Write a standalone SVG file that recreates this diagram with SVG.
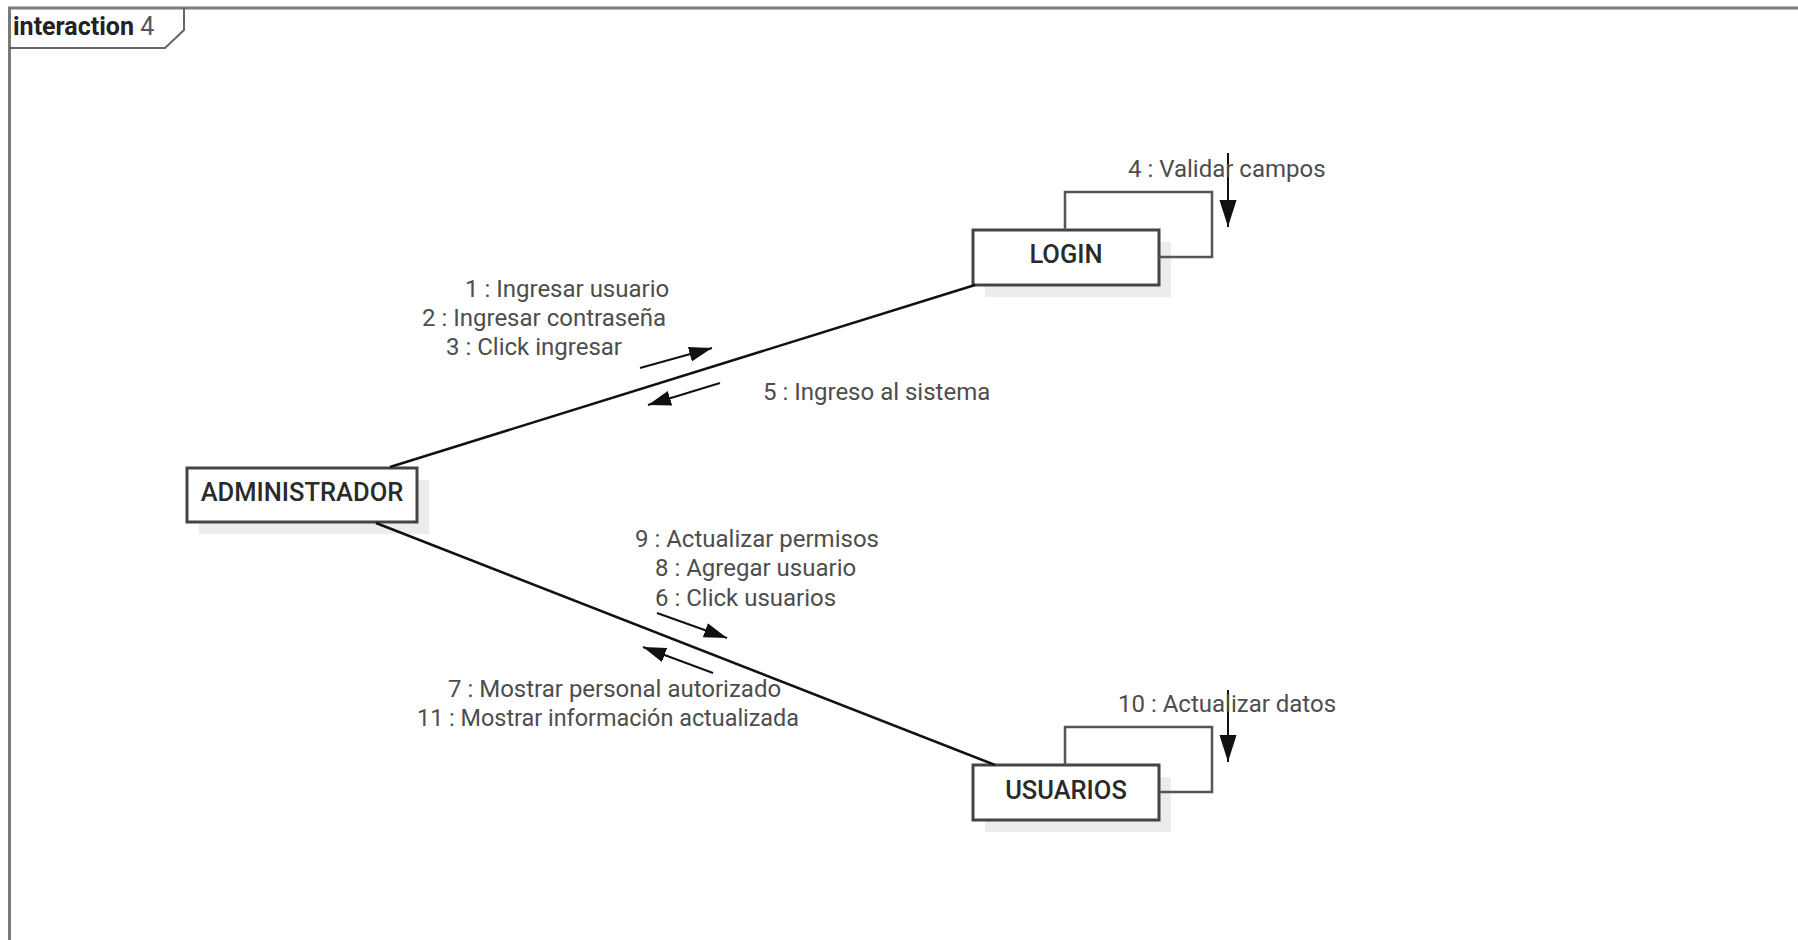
<svg xmlns="http://www.w3.org/2000/svg" width="1798" height="940" viewBox="0 0 1798 940">
  <style>
    .frame { fill: none; stroke: #7a7a7a; stroke-width: 3; }
    .tab { fill: none; stroke: #666; stroke-width: 2; }
    .shadow { fill: #ececec; stroke: none; }
    .box { fill: #fff; stroke: #444; stroke-width: 3; }
    .name { font-family: Roboto, "Liberation Sans", sans-serif; font-size: 25.5px; font-weight: 500; fill: #2a2a2a; text-anchor: middle; }
    .msg { font-family: Roboto, "Liberation Sans", sans-serif; font-size: 24px; fill: #4d4d4d; }
    .link { fill: none; stroke: #111; stroke-width: 2.5; }
    .loop { fill: none; stroke: #555; stroke-width: 2.5; }
    .dir { fill: none; stroke: #111; stroke-width: 2; }
  </style>
  <defs>
    <marker id="head" markerUnits="userSpaceOnUse" markerWidth="24" markerHeight="16" refX="23" refY="7.5" orient="auto">
      <path d="M0,0 L23,7.5 L0,15 z" fill="#111"/>
    </marker>
    <marker id="headDown" markerUnits="userSpaceOnUse" markerWidth="28" markerHeight="18" refX="27" refY="8.5" orient="auto">
      <path d="M0,0 L27,8.5 L0,17 z" fill="#111"/>
    </marker>
  </defs>

  <!-- interaction frame -->
  <g id="frame">
    <path class="frame" d="M9.5,940 V8 H1798"/>
    <path class="tab" d="M9.5,48 H165 L184,30 V8"/>
    <text x="13" y="35" font-family="Roboto, 'Liberation Sans', sans-serif" font-size="25" fill="#222"><tspan font-weight="bold">interaction</tspan> <tspan fill="#555">4</tspan></text>
  </g>

  <g id="administrador">
    <rect class="shadow" x="199" y="480" width="230" height="54"/>
    <rect class="box" x="187" y="468" width="230" height="54"/>
    <text class="name" x="302" y="501">ADMINISTRADOR</text>
  </g>

  <g id="login">
    <rect class="shadow" x="985" y="242" width="186" height="55"/>
    <rect class="box" x="973" y="230" width="186" height="55"/>
    <text class="name" x="1066" y="263">LOGIN</text>
  </g>

  <g id="usuarios">
    <rect class="shadow" x="985" y="777" width="186" height="55"/>
    <rect class="box" x="973" y="765" width="186" height="55"/>
    <text class="name" x="1066" y="799">USUARIOS</text>
  </g>

  <!-- links between lifelines and message arrows -->
  <g id="connectors">
    <line class="link" x1="390" y1="467" x2="975" y2="285"/>
    <line class="link" x1="376" y1="523" x2="995" y2="765"/>

    <!-- self messages -->
    <path class="loop" d="M1065,230 V192 H1212 V257 H1159"/>
    <path class="loop" d="M1065,765 V727 H1212 V792 H1159"/>
    <line class="dir" x1="1228" y1="153" x2="1228" y2="227" marker-end="url(#headDown)"/>
    <line class="dir" x1="1228" y1="690" x2="1228" y2="762" marker-end="url(#headDown)"/>

    <!-- message directions -->
    <line class="dir" x1="640" y1="368" x2="712" y2="348" marker-end="url(#head)"/>
    <line class="dir" x1="720" y1="383" x2="648" y2="405" marker-end="url(#head)"/>
    <line class="dir" x1="657" y1="613" x2="727" y2="638" marker-end="url(#head)"/>
    <line class="dir" x1="713" y1="673" x2="643" y2="647" marker-end="url(#head)"/>

    <!-- message labels -->
    <text class="msg" x="465" y="297">1 : Ingresar usuario</text>
    <text class="msg" x="422" y="326">2 : Ingresar contraseña</text>
    <text class="msg" x="446" y="355">3 : Click ingresar</text>
    <text class="msg" x="763" y="400">5 : Ingreso al sistema</text>
    <text class="msg" x="1128" y="177">4 : Validar campos</text>
    <text class="msg" x="635" y="547">9 : Actualizar permisos</text>
    <text class="msg" x="655" y="576">8 : Agregar usuario</text>
    <text class="msg" x="655" y="606">6 : Click usuarios</text>
    <text class="msg" x="448" y="697">7 : Mostrar personal autorizado</text>
    <text class="msg" x="417" y="726" textLength="382" lengthAdjust="spacingAndGlyphs">11 : Mostrar información actualizada</text>
    <text class="msg" x="1118" y="712">10 : Actualizar datos</text>
  </g>
</svg>
